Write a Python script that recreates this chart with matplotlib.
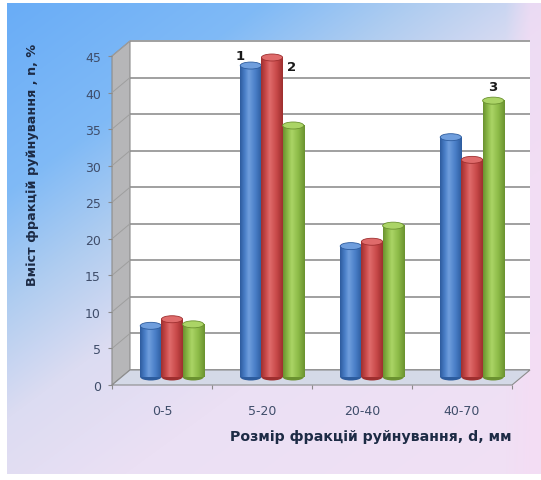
import numpy as np
import matplotlib
matplotlib.use("Agg")
import matplotlib.pyplot as plt
from matplotlib.patches import Polygon, Ellipse
from matplotlib.colors import LinearSegmentedColormap, to_rgb
from matplotlib.transforms import ScaledTranslation

# ---- data -------------------------------------------------------------
categories = ["0-5", "5-20", "20-40", "40-70"]
series_1 = [7.0, 42.6, 17.9, 32.8]
series_2 = [7.9, 43.7, 18.5, 29.7]
series_3 = [7.2, 34.4, 20.7, 37.8]
y_ticks = [0, 5, 10, 15, 20, 25, 30, 35, 40, 45]
curve_labels = ["1", "2", "3"]

x_title = "Розмір фракцій руйнування, d, мм"
y_title = "Вміст фракцій руйнування , n, %"

# ---- figure and gradient backdrop -------------------------------------
W, H = 541, 481
fig = plt.figure(figsize=(W / 100, H / 100), dpi=100)

bg = fig.add_axes([0, 0, 1, 1])
bg.set_axis_off()
yy, xx = np.mgrid[0:H, 0:W]
t = 0.7 * xx / W + 0.85 * yy / H
stop_pos = [0.0, 0.35, 0.55, 0.75, 1.0, 1.6]
stop_col = [to_rgb(c) for c in ["#68acf6", "#80baf6", "#b0cdf0",
                                  "#dcdcf2", "#ebe0f4", "#f2e0f4"]]
img = np.zeros((H, W, 3))
for c in range(3):
    img[..., c] = np.interp(t, stop_pos, [s[c] for s in stop_col])
pink = (np.clip((xx - 505) / 25.0, 0, 1) * 0.7)[..., None]
img = img * (1 - pink) + np.array(to_rgb("#f5dcf4")) * pink
img[:, :7] = 1.0
img[:4, :] = 1.0
img[-6:, :] = 1.0
bg.imshow(img, extent=[0, 1, 0, 1], aspect="auto")
bg.set_xlim(0, 1)
bg.set_ylim(0, 1)

# ---- plot axes ---------------------------------------------------------
ax = fig.add_axes([112 / W, 95 / H, 400 / W, 329 / H])
ax.set_xlim(-0.5, 3.5)
ax.set_ylim(0, 45)
ax.patch.set_visible(False)
for s in ax.spines.values():
    s.set_visible(False)

px_x = 100.0          # pixels per category
px_y = 329.0 / 45.0   # pixels per percent
bdx, bdy = 18 / px_x, 15 / px_y   # box depth in data units

# back wall, side wall and floor of the 3-D box
ax.add_patch(Polygon([(-0.5 + bdx, bdy), (3.5 + bdx, bdy),
                      (3.5 + bdx, 45 + bdy), (-0.5 + bdx, 45 + bdy)],
                     closed=True, fc="white", ec="none", zorder=1, clip_on=False))
ax.add_patch(Polygon([(-0.5, 0), (-0.5 + bdx, bdy),
                      (-0.5 + bdx, 45 + bdy), (-0.5, 45)],
                     closed=True, fc="#b6b6b8", ec="#8c8c8c", lw=0.8,
                     zorder=1.2, clip_on=False))
ax.add_patch(Polygon([(-0.5, 0), (3.5, 0), (3.5 + bdx, bdy), (-0.5 + bdx, bdy)],
                     closed=True, fc="#d4d9e7", ec="#8c8c8c", lw=0.8,
                     zorder=1.3, clip_on=False))

for v in y_ticks:
    ax.plot([-0.5 + bdx, 3.5 + bdx], [v + bdy, v + bdy], color="#a0a0a0",
            lw=1.4, zorder=1.1, clip_on=False, solid_capstyle="butt")
    ax.plot([-0.5, -0.5 + bdx], [v, v + bdy], color="#9e9e9e",
            lw=0.7, zorder=1.25, clip_on=False)

# ---- cylinder bars -----------------------------------------------------
mid = ax.transData + ScaledTranslation(10 / 100, 8 / 100, fig.dpi_scale_trans)
bw = 0.212
cap_h = 7 / px_y
shades = [
    ("#2d5c9e", "#4a7fc8", "#6f9edd"),
    ("#9e2f2f", "#c94a4a", "#df6b6b"),
    ("#6b9230", "#8dbb48", "#abd466"),
]
grad = np.linspace(0, 1, 64)[None, :]
for j, vals in enumerate([series_1, series_2, series_3]):
    edge, base, hi = shades[j]
    cmap = LinearSegmentedColormap.from_list(
        f"cyl{j}", [(0, edge), (0.22, base), (0.4, hi), (0.7, base), (1, edge)])
    xs = np.arange(len(categories)) + (j - 1) * bw
    bars = ax.bar(xs, vals, width=bw, color=base, transform=mid,
                  zorder=3 + j * 0.1, clip_on=False, lw=0)
    for xc, v, rect in zip(xs, vals, bars):
        ax.add_patch(Ellipse((xc, 0), bw, cap_h, transform=mid, fc=edge,
                             ec="none", zorder=2.9 + j * 0.1, clip_on=False))
        im = ax.imshow(grad, cmap=cmap, aspect="auto", transform=mid,
                       extent=(xc - bw / 2, xc + bw / 2, 0, v),
                       zorder=3.01 + j * 0.1, clip_on=False)
        im.set_clip_path(rect)
        ax.add_patch(Ellipse((xc, v), bw, cap_h, transform=mid, fc=hi,
                             ec=edge, lw=0.6, zorder=3.05 + j * 0.1,
                             clip_on=False))
ax.set_xlim(-0.5, 3.5)
ax.set_ylim(0, 45)

# ---- ticks and titles --------------------------------------------------
tick_col = "#3f4d6a"
ax.set_yticks(y_ticks)
ax.tick_params(axis="y", length=3, width=0.8, color="#8a8a8a", pad=5,
               labelsize=9, labelcolor=tick_col)
ax.set_xticks(range(len(categories)))
ax.set_xticklabels(categories)
ax.tick_params(axis="x", which="major", length=0, pad=14, labelsize=9,
               labelcolor=tick_col)
ax.set_xticks([-0.5, 0.5, 1.5, 2.5, 3.5], minor=True)
ax.tick_params(axis="x", which="minor", length=3, width=0.8, color="#8a8a8a")

fig.text(33 / W, 1 - 165 / H, y_title, rotation=90, ha="center", va="center",
         fontsize=9.2, fontweight="bold", color="#1d2b45")
fig.text(371 / W, 1 - 437 / H, x_title, ha="center", va="center",
         fontsize=10.2, fontweight="bold", color="#1d2b45")

for lab, (lx, ly) in zip(curve_labels, [(0.78, 45.0), (1.30, 43.5), (3.31, 40.8)]):
    ax.text(lx, ly, lab, ha="center", va="center", fontsize=9.5,
            fontweight="bold", color="#1a1a1a", zorder=5)

fig.savefig("out.png", dpi=100)
